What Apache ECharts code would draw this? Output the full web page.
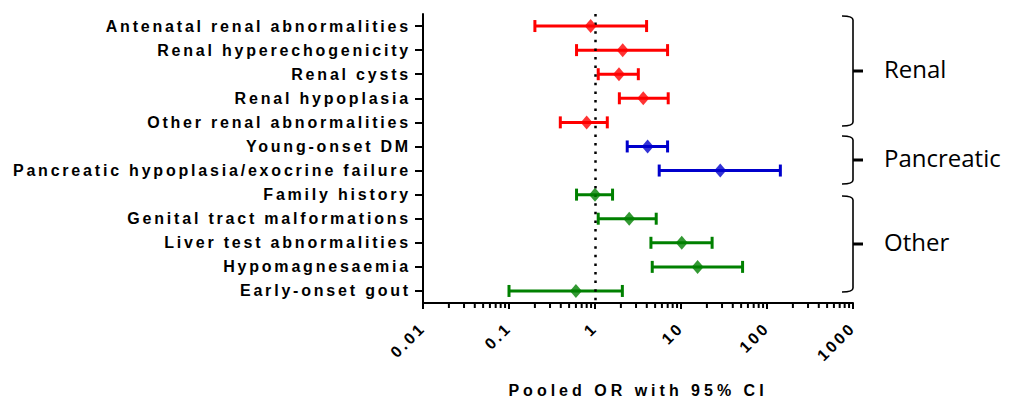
<!DOCTYPE html>
<html>
<head>
<meta charset="utf-8">
<script src="https://cdn.jsdelivr.net/npm/echarts@6/dist/echarts.min.js"></script>
<style>
  html, body { margin: 0; padding: 0; background: #fff; }
  #chart { width: 1011px; height: 401px; }
</style>
</head>
<body>
<div id="chart"></div>
<script>
// Forest plot: pooled odds ratios with 95% confidence intervals
const categories = [
  'Antenatal renal abnormalities',
  'Renal hyperechogenicity',
  'Renal cysts',
  'Renal hypoplasia',
  'Other renal abnormalities',
  'Young-onset DM',
  'Pancreatic hypoplasia/exocrine failure',
  'Family history',
  'Genital tract malformations',
  'Liver test abnormalities',
  'Hypomagnesaemia',
  'Early-onset gout'
];
const pooledOR = [0.89, 2.1, 1.9, 3.64, 0.8, 4.09, 28.6, 1.0, 2.5, 10.2, 15.6, 0.6];
const ciLower  = [0.2, 0.61, 1.09, 1.92, 0.395, 2.37, 5.58, 0.61, 1.09, 4.47, 4.63, 0.1];
const ciUpper  = [3.98, 6.98, 3.19, 7.1, 1.39, 6.98, 143, 1.6, 5.15, 23, 52, 2.08];
const rowGroup = ['Renal', 'Renal', 'Renal', 'Renal', 'Renal', 'Pancreatic', 'Pancreatic',
                  'Other', 'Other', 'Other', 'Other', 'Other'];
const groupNames = ['Renal', 'Pancreatic', 'Other'];
const xTickLabels = ['0.01', '0.1', '1', '10', '100', '1000'];
const xMinorTicks = [
  0.02, 0.03, 0.04, 0.05, 0.06, 0.07, 0.08, 0.09,
  0.2, 0.3, 0.4, 0.5, 0.6, 0.7, 0.8, 0.9,
  2, 3, 4, 5, 6, 7, 8, 9,
  20, 30, 40, 50, 60, 70, 80, 90,
  200, 300, 400, 500, 600, 700, 800, 900
];
const axisTitle = 'Pooled OR with 95% CI';

const groupColor = { Renal: '#FF0000', Pancreatic: '#0000CC', Other: '#008000' };

// Curly braces to the right of the plot, one per group (pixel layout)
const braceLayout = {
  Renal:      { top: 16,  mid: 71,  bottom: 126 },
  Pancreatic: { top: 136, mid: 160, bottom: 184 },
  Other:      { top: 196, mid: 244, bottom: 292 }
};

const FONT = '"Liberation Sans", Arial, sans-serif';

function braceElements(b) {
  const xh = 842, xs = 853, xt = 863, r = 4;
  const ls = { stroke: '#000', lineWidth: 1.6, fill: null };
  return [
    { type: 'bezierCurve', shape: { x1: xh, y1: b.top, cpx1: xs, cpy1: b.top, x2: xs, y2: b.top + r }, style: ls },
    { type: 'line', shape: { x1: xs, y1: b.top + r, x2: xs, y2: b.bottom - r }, style: ls },
    { type: 'bezierCurve', shape: { x1: xs, y1: b.bottom - r, cpx1: xs, cpy1: b.bottom, x2: xh, y2: b.bottom }, style: ls },
    { type: 'line', shape: { x1: xs, y1: b.mid, x2: xt, y2: b.mid }, style: { stroke: '#000', lineWidth: 3 } }
  ];
}

const graphicEls = [];
groupNames.forEach(function (g) {
  const b = braceLayout[g];
  braceElements(b).forEach(function (e) { graphicEls.push(e); });
  graphicEls.push({
    type: 'text', left: 884, top: b.mid - 15,
    style: { text: g, font: '24px "Open Sans", sans-serif', fill: '#000' }
  });
});

const chart = echarts.init(document.getElementById('chart'), null, { renderer: 'svg' });

chart.setOption({
  animation: false,
  grid: { left: 423, right: 158, top: 14, bottom: 98, containLabel: false, outerBoundsMode: 'none' },
  xAxis: {
    type: 'log',
    logBase: 10,
    min: 0.01,
    max: 1000,
    splitNumber: 5,
    name: axisTitle,
    nameLocation: 'middle',
    nameGap: 79,
    nameTextStyle: { fontFamily: FONT, fontWeight: 'bold', fontSize: 16, color: '#000' },
    axisLine: { show: true, onZero: false, lineStyle: { color: '#000', width: 2 } },
    axisTick: { show: true, length: 6, lineStyle: { color: '#000', width: 2 } },
    minorTick: { show: false },
    splitLine: { show: false },
    axisLabel: {
      rotate: 45,
      margin: 22,
      fontFamily: FONT, fontWeight: 'bold', fontSize: 16, color: '#000',
      formatter: function (v) {
        return xTickLabels[Math.round(Math.log10(v)) + 2];
      }
    }
  },
  yAxis: {
    type: 'category',
    data: categories,
    inverse: true,
    axisLine: { show: true, onZero: false, lineStyle: { color: '#000', width: 2 } },
    axisTick: { show: true, alignWithLabel: true, length: 8, lineStyle: { color: '#000', width: 2 } },
    splitLine: { show: false },
    axisLabel: {
      margin: 12,
      fontFamily: FONT, fontWeight: 'bold', fontSize: 16, color: '#000'
    }
  },
  graphic: { elements: graphicEls },
  series: [
    {
      // minor log ticks on the x axis (2..9 within each decade)
      type: 'custom',
      silent: true,
      clip: false,
      data: xMinorTicks.map(function (v) { return [v, 0]; }),
      renderItem: function (params, api) {
        const x = api.coord([api.value(0), 0])[0];
        const y = params.coordSys.y + params.coordSys.height;
        return {
          type: 'line',
          shape: { x1: x, y1: y, x2: x, y2: y + 5 },
          style: { stroke: '#000', lineWidth: 2 }
        };
      }
    },
    {
      // confidence interval bars with end caps
      type: 'custom',
      silent: true,
      data: categories.map(function (c, i) { return [ciLower[i], ciUpper[i], i]; }),
      renderItem: function (params, api) {
        const i = api.value(2);
        const p1 = api.coord([api.value(0), i]);
        const p2 = api.coord([api.value(1), i]);
        const col = groupColor[rowGroup[i]];
        const st = { stroke: col, lineWidth: 3 };
        const h = 6;
        return {
          type: 'group',
          children: [
            { type: 'line', shape: { x1: p1[0], y1: p1[1], x2: p2[0], y2: p2[1] }, style: st },
            { type: 'line', shape: { x1: p1[0], y1: p1[1] - h, x2: p1[0], y2: p1[1] + h }, style: st },
            { type: 'line', shape: { x1: p2[0], y1: p2[1] - h, x2: p2[0], y2: p2[1] + h }, style: st }
          ]
        };
      }
    },
    {
      type: 'scatter',
      symbol: 'diamond',
      symbolSize: [12, 14],
      data: categories.map(function (c, i) {
        return { value: [pooledOR[i], i], itemStyle: { color: groupColor[rowGroup[i]] } };
      }),
      markLine: {
        silent: true,
        symbol: 'none',
        label: { show: false },
        lineStyle: { color: '#000', width: 2.5, type: [2.5, 6.1] },
        data: [{ xAxis: 1 }]
      },
      z: 5
    }
  ]
});

// Spaced-out lettering for the axis texts
function spaceLetters() {
  const texts = document.querySelectorAll('#chart svg text');
  texts.forEach(function (t) {
    const s = t.textContent;
    if (groupNames.indexOf(s) >= 0) return;
    t.style.letterSpacing = (s === axisTitle) ? '4px' : '2.8px';
  });
}
chart.on('finished', spaceLetters);
spaceLetters();
</script>
</body>
</html>
